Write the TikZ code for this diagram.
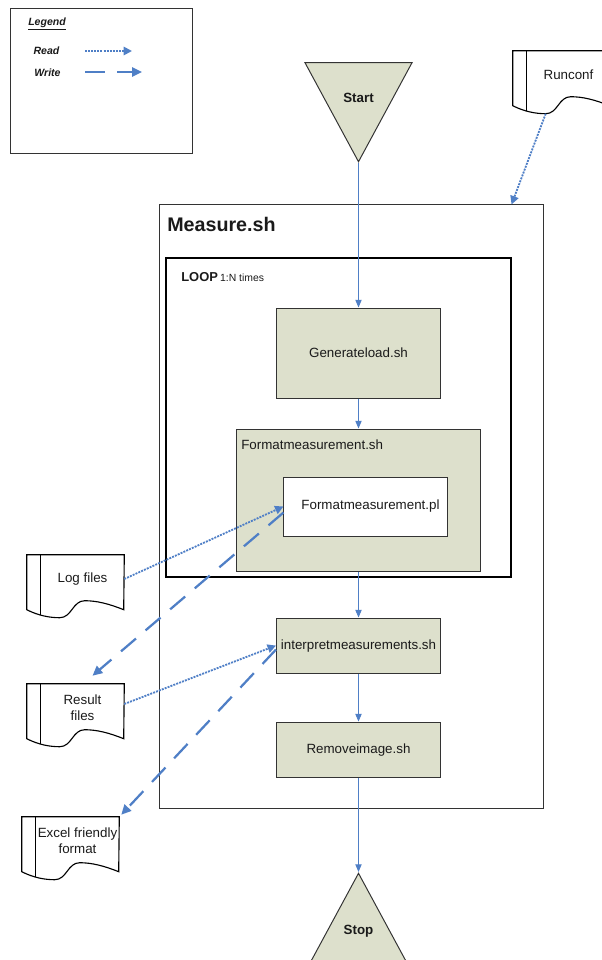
\documentclass[tikz,border=0pt]{standalone}
\usepackage{fontspec}
\setmainfont{Liberation Sans}
\usetikzlibrary{arrows.meta,positioning,shapes.geometric}
\definecolor{boxfill}{HTML}{DDE0CC}
\definecolor{flowblue}{HTML}{4F7FC6}
\definecolor{edgegray}{HTML}{333333}
\definecolor{textgray}{HTML}{1A1A1A}

\begin{document}
\begin{tikzpicture}[
  x=0.025cm, y=-0.025cm,
  font=\fontsize{9.5}{11.5}\selectfont,
  text=textgray,
  script/.style={draw=edgegray,fill=boxfill,line width=0.7pt,minimum width=4.1cm,minimum height=1.375cm,inner sep=0pt},
  frame/.style={draw=edgegray,line width=0.7pt,inner sep=0pt},
  doc/.style={minimum width=2.075cm,minimum height=1.2cm,inner sep=0pt,align=center},
  docline/.style={draw=black,line width=0.8pt},
  tri/.style={isosceles triangle,isosceles triangle stretches,draw=edgegray,fill=boxfill,line width=0.7pt,minimum width=2.675cm,minimum height=2.475cm,inner sep=0pt},
  trilbl/.style={inner sep=0pt,font=\fontsize{9.5}{11.5}\selectfont\bfseries},
  flow/.style={-{Triangle[length=5.5pt,width=4.5pt]},draw=flowblue,line width=0.7pt},
  rd/.style={-{Triangle[length=6pt,width=6pt]},draw=flowblue,line width=1.3pt,dash pattern=on 1.4pt off 0.8pt},
  wr/.style={-{Triangle[length=7pt,width=6.5pt]},draw=flowblue,line width=1.6pt,dash pattern=on 14pt off 9pt},
  legtext/.style={font=\fontsize{7.5}{9}\selectfont\bfseries\itshape,inner sep=0pt}
]
\useasboundingbox (0,0) rectangle (602,960);

% legend
\node[frame,minimum width=4.525cm,minimum height=3.6cm] (legend) at (101.5,81) {};
\node[legtext] (legtitle) at (47,24) {\underline{Legend}};
\node[legtext] (readlbl) at (46.5,51) {Read};
\node[legtext] (writelbl) at (47.5,73) {Write};
\coordinate (rd-a) at (85,51);
\coordinate (rd-b) at (132,51);
\coordinate (wr-a) at (85,72);
\coordinate (wr-b) at (142,72);
\draw[rd] (rd-a) -- (rd-b);
\draw[wr] (wr-a) -- (wr-b);

% outer script and loop
\node[frame,minimum width=9.575cm,minimum height=15.075cm] (measure) at (351.5,506.5) {};
\node[anchor=west,inner sep=0pt,font=\fontsize{14}{16}\selectfont\bfseries] (measurelbl) at (167,224) {Measure.sh};
\node[frame,draw=black,line width=1pt,minimum width=8.625cm,minimum height=7.975cm] (loop) at (338.5,417.5) {};
\node[anchor=base west,inner sep=0pt] (looplbl) at (181,281) {\fontsize{9.2}{11}\selectfont\bfseries LOOP\,\fontsize{7.4}{9}\selectfont\mdseries 1:N times};

% steps
\node[tri,shape border rotate=270,anchor=apex] (start) at (358.5,163) {};
\node[trilbl] (startlbl) at (358.5,98) {Start};
\node[script,minimum height=2.25cm] (gen) at (358.5,353) {Generateload.sh};
\node[script,minimum width=6.075cm,minimum height=3.55cm,below=0.75cm of gen] (fmtsh) {};
\node[anchor=west,inner sep=0pt] (fmtshlbl) at (241,445) {Formatmeasurement.sh};
\node[script,fill=white,minimum width=4.075cm,minimum height=1.475cm] (fmtpl) at (365.5,506.5) {\hspace*{0.25cm}Formatmeasurement.pl};
\node[script,below=1.15cm of fmtsh] (interp) {interpretmeasurements.sh};
\node[script,below=1.2cm of interp] (remove) {Removeimage.sh};
\node[tri,shape border rotate=90,anchor=apex] (stop) at (358.5,872) {};
\node[trilbl] (stoplbl) at (358.5,931) {Stop};

% documents
\node[doc] (runconf) at (568.5,75) {Runconf};
\node[doc] (log) at (82.5,579) {Log files};
\node[doc] (result) at (82.5,708) {Result\\files};
\node[doc] (excel) at (77.5,841) {Excel friendly\\format};
\foreach \d in {runconf,log,result,excel}{
  \draw[docline] ([xshift=-0.35cm]\d.north west) -- ++(0,55)
    .. controls +(12,6) and +(-10,0) .. ++(33,8) coordinate (\d-low)
    .. controls +(12,0) and +(-12,0) .. ++(25,-17)
    .. controls +(12,0) and +(-15,-6) .. ++(39,9) -- (\d.north east) -- cycle;
  \draw[docline] (\d.north west) -- ++(0,60);
}

% control flow
\draw[flow] (start.apex) -- (gen.north);
\draw[flow] (gen) -- (fmtsh);
\draw[flow] (fmtsh) -- (interp);
\draw[flow] (interp) -- (remove);
\draw[flow] (remove) -- (stop.apex);

% reads and writes
\draw[rd] (runconf-low) -- ([xshift=-0.8cm]measure.north east);
\draw[rd] (log.east) -- (fmtpl.west);
\draw[wr] ([yshift=-0.15cm]fmtpl.west) -- ([xshift=0.25cm,yshift=0.2cm]result.north);
\draw[rd] ([yshift=0.1cm]result.east) -- (interp.west);
\draw[wr] ([yshift=-0.1cm]interp.west) -- ([xshift=0.05cm,yshift=0.05cm]excel.north east);
\end{tikzpicture}
\end{document}
